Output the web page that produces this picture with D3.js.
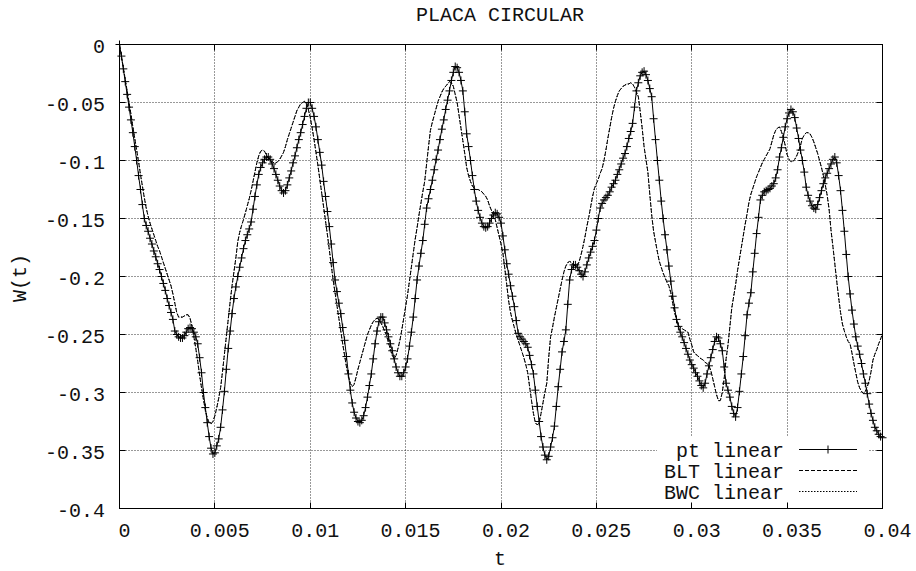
<!DOCTYPE html>
<html>
<head>
<meta charset="utf-8">
<script src="https://cdn.jsdelivr.net/npm/d3@7"></script>
<style>
  html, body { margin: 0; padding: 0; background: #fff; }
  svg { display: block; }
  text { font-family: "Liberation Mono", "Courier New", monospace; fill: #111; }
</style>
</head>
<body>
<svg id="chart" width="916" height="571"></svg>
<script>
// ---- labels and ticks ----
const title = "PLACA CIRCULAR";
const xLabel = "t";
const yLabel = "W(t)";
const xTicks = [0, 0.005, 0.01, 0.015, 0.02, 0.025, 0.03, 0.035, 0.04];
const xTickLabels = ["0", "0.005", "0.01", "0.015", "0.02", "0.025", "0.03", "0.035", "0.04"];
const yTicks = [0, -0.05, -0.1, -0.15, -0.2, -0.25, -0.3, -0.35, -0.4];
const yTickLabels = ["0", "-0.05", "-0.1", "-0.15", "-0.2", "-0.25", "-0.3", "-0.35", "-0.4"];
const seriesNames = ["pt linear", "BLT linear", "BWC linear"];

// ---- sampled deflection W(t), one sample every tStep seconds ----
const tStep = 0.0001;
const ptW = [
0,-.010,-.021,-.032,-.043,-.054,-.065,-.076,-.088,-.100,
-.113,-.125,-.138,-.150,-.156,-.161,-.167,-.172,-.178,-.183,
-.189,-.194,-.200,-.206,-.212,-.219,-.225,-.231,-.237,-.247,
-.250,-.252,-.253,-.253,-.251,-.248,-.245,-.244,-.245,-.248,
-.252,-.258,-.270,-.283,-.300,-.313,-.326,-.338,-.348,-.353,
-.352,-.346,-.340,-.330,-.315,-.299,-.280,-.262,-.247,-.232,
-.219,-.209,-.200,-.192,-.184,-.176,-.169,-.164,-.159,-.153,
-.142,-.131,-.121,-.112,-.106,-.102,-.099,-.097,-.097,-.099,
-.103,-.107,-.112,-.117,-.122,-.126,-.128,-.126,-.121,-.115,
-.109,-.102,-.096,-.089,-.082,-.076,-.069,-.062,-.055,-.050,
-.050,-.055,-.062,-.071,-.082,-.093,-.104,-.118,-.131,-.144,
-.157,-.172,-.188,-.203,-.213,-.223,-.232,-.244,-.255,-.269,
-.284,-.298,-.309,-.317,-.322,-.325,-.326,-.324,-.320,-.313,
-.304,-.294,-.284,-.271,-.258,-.247,-.239,-.235,-.235,-.240,
-.246,-.252,-.258,-.264,-.271,-.278,-.283,-.286,-.286,-.283,
-.278,-.271,-.260,-.248,-.235,-.219,-.203,-.191,-.180,-.169,
-.155,-.141,-.133,-.125,-.117,-.108,-.099,-.091,-.082,-.073,
-.065,-.056,-.048,-.040,-.031,-.024,-.019,-.020,-.024,-.031,
-.040,-.058,-.077,-.088,-.100,-.113,-.125,-.135,-.143,-.149,
-.154,-.157,-.158,-.157,-.154,-.150,-.147,-.145,-.146,-.149,
-.154,-.165,-.177,-.189,-.198,-.208,-.217,-.226,-.238,-.249,
-.252,-.254,-.256,-.258,-.261,-.268,-.276,-.284,-.298,-.312,
-.325,-.338,-.347,-.354,-.358,-.355,-.347,-.339,-.329,-.312,
-.295,-.280,-.265,-.256,-.246,-.224,-.203,-.194,-.190,-.190,
-.192,-.195,-.198,-.200,-.196,-.190,-.184,-.179,-.174,-.169,
-.160,-.150,-.141,-.137,-.134,-.132,-.130,-.127,-.123,-.120,
-.117,-.112,-.108,-.103,-.098,-.094,-.088,-.081,-.075,-.068,
-.054,-.040,-.033,-.027,-.024,-.023,-.026,-.031,-.038,-.045,
-.064,-.082,-.100,-.117,-.135,-.150,-.164,-.177,-.191,-.204,
-.217,-.227,-.237,-.243,-.248,-.252,-.257,-.262,-.267,-.272,
-.276,-.279,-.283,-.286,-.290,-.294,-.296,-.292,-.284,-.277,
-.270,-.263,-.256,-.252,-.253,-.258,-.264,-.278,-.292,-.298,
-.304,-.312,-.318,-.321,-.313,-.299,-.284,-.269,-.251,-.233,
-.223,-.214,-.196,-.180,-.163,-.149,-.134,-.130,-.127,-.126,
-.125,-.124,-.122,-.120,-.115,-.108,-.097,-.089,-.080,-.071,
-.064,-.059,-.056,-.058,-.063,-.072,-.081,-.091,-.100,-.110,
-.123,-.130,-.135,-.139,-.141,-.142,-.138,-.132,-.126,-.120,
-.115,-.111,-.107,-.103,-.099,-.097,-.102,-.113,-.126,-.143,
-.161,-.181,-.200,-.215,-.229,-.241,-.252,-.260,-.267,-.275,
-.284,-.292,-.301,-.310,-.318,-.324,-.330,-.333,-.336,-.338,
-.339
];
const bltW = [
0,-.010,-.020,-.030,-.040,-.050,-.060,-.071,-.081,-.091,
-.101,-.112,-.122,-.132,-.141,-.148,-.154,-.159,-.164,-.169,
-.174,-.178,-.183,-.188,-.193,-.198,-.203,-.208,-.215,-.223,
-.231,-.235,-.235,-.235,-.234,-.233,-.233,-.236,-.243,-.252,
-.262,-.273,-.285,-.296,-.306,-.315,-.322,-.326,-.327,-.325,
-.320,-.313,-.305,-.296,-.282,-.267,-.252,-.237,-.222,-.208,
-.196,-.184,-.170,-.162,-.156,-.151,-.145,-.139,-.133,-.126,
-.118,-.110,-.102,-.096,-.092,-.091,-.092,-.095,-.098,-.100,
-.101,-.102,-.102,-.101,-.099,-.096,-.093,-.088,-.082,-.077,
-.072,-.067,-.062,-.057,-.054,-.051,-.050,-.049,-.051,-.056,
-.063,-.072,-.082,-.093,-.104,-.116,-.128,-.140,-.152,-.164,
-.177,-.190,-.203,-.214,-.225,-.236,-.247,-.258,-.268,-.278,
-.286,-.292,-.295,-.293,-.287,-.280,-.274,-.268,-.262,-.256,
-.250,-.246,-.242,-.239,-.237,-.236,-.237,-.240,-.243,-.247,
-.251,-.257,-.263,-.268,-.271,-.268,-.262,-.255,-.246,-.236,
-.226,-.216,-.204,-.192,-.180,-.168,-.158,-.147,-.137,-.127,
-.118,-.103,-.088,-.074,-.067,-.061,-.055,-.049,-.045,-.041,
-.038,-.036,-.034,-.032,-.033,-.036,-.043,-.050,-.061,-.072,
-.083,-.094,-.106,-.113,-.118,-.122,-.124,-.125,-.125,-.126,
-.127,-.129,-.131,-.134,-.139,-.143,-.147,-.151,-.158,-.165,
-.172,-.180,-.193,-.207,-.221,-.231,-.238,-.244,-.250,-.255,
-.260,-.265,-.270,-.276,-.283,-.295,-.307,-.318,-.326,-.328,
-.326,-.318,-.309,-.300,-.292,-.270,-.252,-.244,-.235,-.227,
-.219,-.211,-.203,-.196,-.191,-.188,-.187,-.188,-.190,-.191,
-.191,-.187,-.181,-.174,-.166,-.157,-.149,-.140,-.131,-.124,
-.120,-.116,-.111,-.107,-.100,-.091,-.081,-.072,-.063,-.055,
-.049,-.044,-.040,-.038,-.036,-.035,-.034,-.034,-.033,-.034,
-.037,-.041,-.045,-.058,-.072,-.088,-.099,-.110,-.129,-.147,
-.161,-.170,-.179,-.187,-.192,-.197,-.201,-.205,-.208,-.214,
-.223,-.231,-.237,-.242,-.244,-.245,-.246,-.247,-.248,-.254,
-.259,-.265,-.267,-.268,-.270,-.271,-.272,-.274,-.275,-.277,
-.281,-.288,-.295,-.302,-.307,-.307,-.300,-.288,-.271,-.259,
-.243,-.227,-.217,-.207,-.195,-.185,-.175,-.165,-.155,-.146,
-.136,-.129,-.124,-.119,-.114,-.110,-.106,-.102,-.099,-.096,
-.093,-.090,-.084,-.078,-.074,-.072,-.071,-.075,-.080,-.087,
-.095,-.099,-.101,-.101,-.099,-.096,-.092,-.087,-.081,-.078,
-.076,-.076,-.077,-.080,-.084,-.089,-.094,-.100,-.106,-.113,
-.121,-.130,-.142,-.160,-.174,-.189,-.204,-.218,-.231,-.241,
-.247,-.252,-.256,-.258,-.266,-.275,-.283,-.291,-.296,-.299,
-.301,-.299,-.295,-.290,-.282,-.272,-.267,-.263,-.258,-.254,
-.249
];
const bwcW = [
0,-.010,-.020,-.030,-.040,-.050,-.060,-.071,-.081,-.091,
-.101,-.112,-.122,-.132,-.141,-.148,-.154,-.159,-.164,-.169,
-.174,-.178,-.183,-.188,-.193,-.198,-.203,-.208,-.215,-.223,
-.231,-.235,-.235,-.235,-.234,-.233,-.233,-.236,-.243,-.252,
-.262,-.273,-.285,-.296,-.306,-.315,-.322,-.326,-.327,-.325,
-.320,-.313,-.305,-.296,-.282,-.267,-.252,-.237,-.222,-.208,
-.196,-.184,-.170,-.162,-.156,-.151,-.145,-.139,-.133,-.126,
-.118,-.110,-.102,-.096,-.092,-.091,-.092,-.095,-.098,-.100,
-.101,-.102,-.102,-.101,-.099,-.096,-.093,-.088,-.082,-.077,
-.072,-.067,-.062,-.057,-.054,-.051,-.050,-.049,-.051,-.056,
-.063,-.072,-.082,-.093,-.104,-.116,-.128,-.140,-.152,-.164,
-.177,-.190,-.203,-.214,-.225,-.236,-.247,-.258,-.268,-.278,
-.286,-.292,-.295,-.293,-.287,-.280,-.274,-.268,-.262,-.256,
-.250,-.246,-.242,-.239,-.237,-.236,-.237,-.240,-.243,-.247,
-.251,-.257,-.263,-.268,-.271,-.268,-.262,-.255,-.246,-.236,
-.226,-.216,-.204,-.192,-.180,-.168,-.158,-.147,-.137,-.127,
-.118,-.103,-.088,-.074,-.067,-.061,-.055,-.049,-.045,-.041,
-.038,-.036,-.034,-.032,-.033,-.036,-.043,-.050,-.061,-.072,
-.083,-.094,-.106,-.113,-.118,-.122,-.124,-.125,-.125,-.126,
-.127,-.129,-.131,-.134,-.139,-.143,-.147,-.151,-.158,-.165,
-.172,-.180,-.193,-.207,-.221,-.231,-.238,-.244,-.250,-.255,
-.260,-.265,-.270,-.276,-.283,-.295,-.307,-.318,-.326,-.328,
-.326,-.318,-.309,-.300,-.292,-.270,-.252,-.244,-.235,-.227,
-.219,-.211,-.203,-.196,-.191,-.188,-.187,-.188,-.190,-.191,
-.191,-.187,-.181,-.174,-.166,-.157,-.149,-.140,-.131,-.124,
-.120,-.116,-.111,-.107,-.100,-.091,-.081,-.072,-.063,-.055,
-.049,-.044,-.040,-.038,-.036,-.035,-.034,-.034,-.033,-.034,
-.037,-.041,-.045,-.058,-.072,-.088,-.099,-.110,-.129,-.147,
-.161,-.170,-.179,-.187,-.192,-.197,-.201,-.205,-.208,-.214,
-.223,-.231,-.237,-.242,-.244,-.245,-.246,-.247,-.248,-.254,
-.259,-.265,-.267,-.268,-.270,-.271,-.272,-.274,-.275,-.277,
-.281,-.288,-.295,-.302,-.307,-.307,-.300,-.288,-.271,-.259,
-.243,-.227,-.217,-.207,-.195,-.185,-.175,-.165,-.155,-.146,
-.136,-.129,-.124,-.119,-.114,-.110,-.106,-.102,-.099,-.096,
-.093,-.090,-.084,-.078,-.074,-.072,-.071,-.075,-.080,-.087,
-.095,-.099,-.101,-.101,-.099,-.096,-.092,-.087,-.081,-.078,
-.076,-.076,-.077,-.080,-.084,-.089,-.094,-.100,-.106,-.113,
-.121,-.130,-.142,-.160,-.174,-.189,-.204,-.218,-.231,-.241,
-.247,-.252,-.256,-.258,-.266,-.275,-.283,-.291,-.296,-.299,
-.301,-.299,-.295,-.290,-.282,-.272,-.267,-.263,-.258,-.254,
-.249
];

// ---- layout ----
const plot = { left: 119.5, right: 882.5, top: 44.5, bottom: 508.5 };
const fontSize = 20;
const tickLen = 6;

const svg = d3.select("#chart");
const x = d3.scaleLinear().domain([0, 0.04]).range([plot.left, plot.right]);
const y = d3.scaleLinear().domain([-0.4, 0]).range([plot.bottom, plot.top]);
const snap = v => Math.round(v - 0.5) + 0.5;

const toPoints = arr => arr.map((w, i) => ({ t: i * tStep, w }));
const ptData = toPoints(ptW);
const bltData = toPoints(bltW);
const bwcData = toPoints(bwcW);

// grid
const grid = svg.append("g").attr("stroke", "#333").attr("stroke-width", 1)
  .attr("stroke-dasharray", "1,2").attr("fill", "none");
xTicks.forEach(v => {
  const px = snap(x(v));
  grid.append("line").attr("x1", px).attr("x2", px).attr("y1", plot.top).attr("y2", plot.bottom);
});
yTicks.forEach(v => {
  const py = snap(y(v));
  grid.append("line").attr("x1", plot.left).attr("x2", plot.right).attr("y1", py).attr("y2", py);
});

// key background clears the grid behind the legend
const key = { right: 784, lineX1: 799, lineX2: 857, rows: [449.5, 470.5, 491.5] };
svg.append("rect").attr("x", 657).attr("y", 436).attr("width", 212).attr("height", 71).attr("fill", "#fff");

// curves
const line = d3.line().x(d => x(d.t)).y(d => y(d.w));
svg.append("path").datum(bwcData).attr("d", line).attr("fill", "none")
  .attr("stroke", "#000").attr("stroke-width", 1).attr("stroke-dasharray", "1.5,1.5");
svg.append("path").datum(bltData).attr("d", line).attr("fill", "none")
  .attr("stroke", "#000").attr("stroke-width", 1).attr("stroke-dasharray", "4,2");
svg.append("path").datum(ptData).attr("d", line).attr("fill", "none")
  .attr("stroke", "#000").attr("stroke-width", 1);

const plus = (g, cx, cy, r) => {
  g.append("line").attr("x1", cx - r).attr("x2", cx + r).attr("y1", cy).attr("y2", cy);
  g.append("line").attr("x1", cx).attr("x2", cx).attr("y1", cy - r).attr("y2", cy + r);
};
const marks = svg.append("g").attr("stroke", "#000").attr("stroke-width", 1);
ptData.forEach(d => plus(marks, x(d.t), y(d.w), 4));

// frame and ticks (mirrored on all four sides)
svg.append("rect").attr("x", plot.left).attr("y", plot.top)
  .attr("width", plot.right - plot.left).attr("height", plot.bottom - plot.top)
  .attr("fill", "none").attr("stroke", "#000").attr("stroke-width", 1);
const ticks = svg.append("g").attr("stroke", "#000").attr("stroke-width", 1);
xTicks.forEach(v => {
  const px = snap(x(v));
  ticks.append("line").attr("x1", px).attr("x2", px).attr("y1", plot.bottom).attr("y2", plot.bottom - tickLen);
  ticks.append("line").attr("x1", px).attr("x2", px).attr("y1", plot.top).attr("y2", plot.top + tickLen);
});
yTicks.forEach(v => {
  const py = snap(y(v));
  ticks.append("line").attr("x1", plot.left).attr("x2", plot.left + tickLen).attr("y1", py).attr("y2", py);
  ticks.append("line").attr("x1", plot.right).attr("x2", plot.right - tickLen).attr("y1", py).attr("y2", py);
});

// tick labels
xTicks.forEach((v, i) => {
  svg.append("text").attr("x", x(v) + 5).attr("y", 537).attr("text-anchor", "middle")
    .attr("font-size", fontSize).text(xTickLabels[i]);
});
yTicks.forEach((v, i) => {
  svg.append("text").attr("x", 105).attr("y", y(v) + 8.5).attr("text-anchor", "end")
    .attr("font-size", fontSize).text(yTickLabels[i]);
});

// title and axis labels
svg.append("text").attr("x", 500).attr("y", 21).attr("text-anchor", "middle")
  .attr("font-size", fontSize).text(title);
svg.append("text").attr("x", 500).attr("y", 565).attr("text-anchor", "middle")
  .attr("font-size", fontSize).text(xLabel);
svg.append("text").attr("transform", "translate(26,278) rotate(-90)").attr("text-anchor", "middle")
  .attr("font-size", fontSize).text(yLabel);

// legend
const dashes = [null, "4,2", "1.5,1.5"];
seriesNames.forEach((name, i) => {
  const ly = key.rows[i];
  svg.append("text").attr("x", key.right).attr("y", ly + 7.5).attr("text-anchor", "end")
    .attr("font-size", fontSize).text(name);
  const l = svg.append("line").attr("x1", key.lineX1).attr("x2", key.lineX2).attr("y1", ly).attr("y2", ly)
    .attr("stroke", "#000").attr("stroke-width", 1);
  if (dashes[i]) l.attr("stroke-dasharray", dashes[i]);
});
plus(svg.append("g").attr("stroke", "#000").attr("stroke-width", 1), (key.lineX1 + key.lineX2) / 2, key.rows[0], 4);
</script>
</body>
</html>
